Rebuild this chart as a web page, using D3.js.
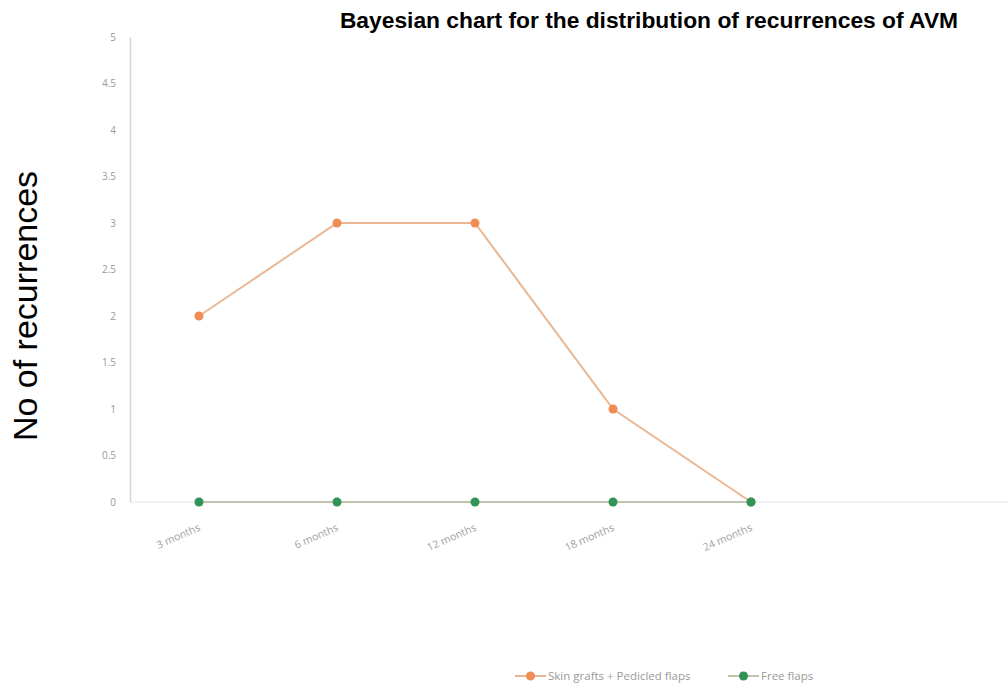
<!DOCTYPE html>
<html>
<head>
<meta charset="utf-8">
<script src="https://cdn.jsdelivr.net/npm/d3@7"></script>
<style>
  body { margin: 0; background: #fff; }
  svg { display: block; }
</style>
</head>
<body>
<svg id="chart" width="1008" height="687"></svg>
<script>
// data
const months = ['3 months', '6 months', '12 months', '18 months', '24 months']
const skinGrafts = [2, 3, 3, 1, 0]
const freeFlaps = [0, 0, 0, 0, 0]
const yTicks = [0, 0.5, 1, 1.5, 2, 2.5, 3, 3.5, 4, 4.5, 5]
const seriesNames = ['Skin grafts + Pedicled flaps', 'Free flaps']

const width = 1008, height = 687
const margin = {top: 37, right: 0, bottom: 185, left: 130}
const bandStep = 138

const svg = d3.select('#chart')

// x is a band per month, like the excel category axis
const x = d3.scaleBand()
    .domain(months)
    .range([margin.left, margin.left + bandStep * months.length])
const cx = d => x(d) + x.bandwidth() / 2

const y = d3.scaleLinear().domain([0, 5]).range([height - margin.bottom, margin.top])

// y axis: light line + grey labels, no ticks
const yAxis = svg.append('g')
    .attr('transform', `translate(${margin.left},0)`)
    .call(d3.axisLeft(y).tickValues(yTicks).tickSize(0).tickPadding(14)
        .tickFormat(d => String(d)))
yAxis.select('.domain').attr('stroke', '#d6d6d6').attr('stroke-width', 1.5)
yAxis.selectAll('text')
    .attr('fill', '#9a9a9a')
    .style('font-family', '"Open Sans", sans-serif')
    .style('font-size', '10px')

// x axis: baseline runs to the right edge
svg.append('line')
    .attr('x1', margin.left).attr('x2', width)
    .attr('y1', y(0)).attr('y2', y(0))
    .attr('stroke', '#e6e6e6').attr('stroke-width', 1.2)

const xAxis = svg.append('g')
    .attr('transform', `translate(0,${y(0)})`)
    .call(d3.axisBottom(x).tickSize(0).tickPadding(0))
xAxis.select('.domain').remove()
xAxis.selectAll('text')
    .attr('fill', '#a0a0a0')
    .attr('text-anchor', 'end')
    .attr('dy', 0)
    .attr('transform', 'translate(2,28) rotate(-24)')
    .style('font-family', '"Open Sans", sans-serif')
    .style('font-size', '10.5px')

// lines + markers
const line = d3.line().x((d, i) => cx(months[i])).y(d => y(d))

const series = [
  {name: seriesNames[0], values: skinGrafts, line: '#eab792', dot: '#ef8d55'},
  {name: seriesNames[1], values: freeFlaps, line: '#c3c2ad', dot: '#2f9455'}
]

series.forEach(s => {
  svg.append('path')
      .datum(s.values)
      .attr('d', line)
      .attr('fill', 'none')
      .attr('stroke', s.line)
      .attr('stroke-width', 2)
})
series.forEach(s => {
  svg.selectAll(null)
      .data(s.values)
      .enter()
      .append('circle')
      .attr('cx', (d, i) => cx(months[i]))
      .attr('cy', d => y(d))
      .attr('r', 4.5)
      .attr('fill', s.dot)
})

// title
svg.append('text')
    .attr('x', 649).attr('y', 28)
    .attr('text-anchor', 'middle')
    .style('font-family', '"Liberation Sans", Arial, sans-serif')
    .style('font-weight', 'bold')
    .style('font-size', '22.8px')
    .text('Bayesian chart for the distribution of recurrences of AVM')

// y axis title
svg.append('text')
    .attr('transform', 'translate(37,306) rotate(-90)')
    .attr('text-anchor', 'middle')
    .style('font-family', '"Liberation Sans", Arial, sans-serif')
    .style('font-size', '34px')
    .text('No of recurrences')

// legend
const legendX = [515, 728]
const legend = svg.selectAll('.legend')
    .data(series)
    .enter()
    .append('g')
    .attr('class', 'legend')
    .attr('transform', (d, i) => `translate(${legendX[i]},676)`)
legend.append('line')
    .attr('x1', 0).attr('x2', 31)
    .attr('stroke', d => d.line).attr('stroke-width', 2)
legend.append('circle')
    .attr('cx', 15.5).attr('r', 4.5)
    .attr('fill', d => d.dot)
legend.append('text')
    .attr('x', 33).attr('dy', '0.35em')
    .attr('fill', '#9a9a9a')
    .style('font-family', '"Open Sans", sans-serif')
    .style('font-size', '11.5px')
    .text(d => d.name)
</script>
</body>
</html>
